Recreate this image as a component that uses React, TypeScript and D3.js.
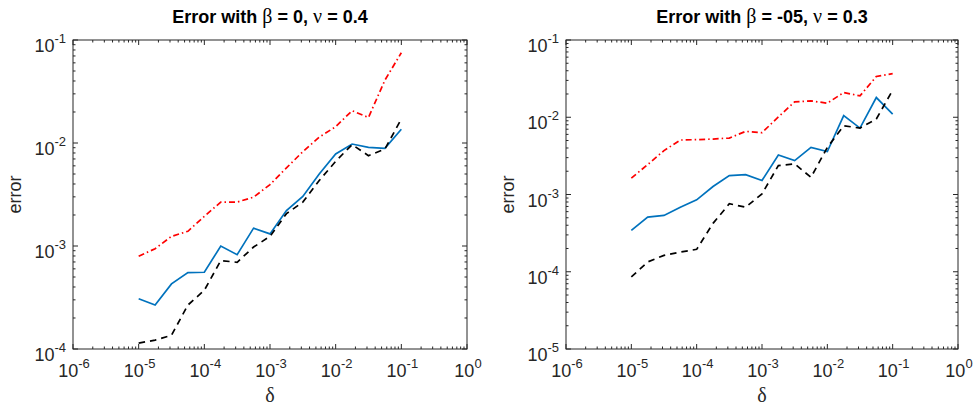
import React from 'react';
import * as d3 from 'd3';

// step sizes (delta) shared by both panels
const deltas = [
  1e-5, 1.78e-5, 3.16e-5, 5.62e-5, 1e-4, 1.78e-4, 3.16e-4, 5.62e-4, 1e-3,
  1.78e-3, 3.16e-3, 5.62e-3, 1e-2, 1.78e-2, 3.16e-2, 5.62e-2, 1e-1,
];

// left panel: beta = 0, nu = 0.4
const leftBlue = [
  3.07e-4, 2.67e-4, 4.29e-4, 5.52e-4, 5.56e-4, 1.0e-3, 8.24e-4, 1.49e-3, 1.31e-3,
  2.21e-3, 3.03e-3, 5.01e-3, 7.83e-3, 9.77e-3, 9.08e-3, 8.87e-3, 1.36e-2,
];
const leftRed = [
  7.94e-4, 9.42e-4, 1.24e-3, 1.39e-3, 1.94e-3, 2.67e-3, 2.67e-3, 2.98e-3, 3.95e-3,
  5.73e-3, 8.24e-3, 1.14e-2, 1.44e-2, 2.06e-2, 1.77e-2, 4.07e-2, 7.53e-2,
];
const leftBlack = [
  1.14e-4, 1.22e-4, 1.36e-4, 2.67e-4, 3.72e-4, 7.21e-4, 6.95e-4, 9.77e-4, 1.24e-3,
  2.06e-3, 2.67e-3, 4.32e-3, 6.64e-3, 9.64e-3, 7.53e-3, 8.75e-3, 1.71e-2,
];

// right panel: beta = -05, nu = 0.3
const rightBlue = [
  3.43e-4, 5.09e-4, 5.36e-4, 6.85e-4, 8.53e-4, 1.27e-3, 1.76e-3, 1.81e-3, 1.52e-3,
  3.25e-3, 2.75e-3, 4.07e-3, 3.59e-3, 1.05e-2, 7.24e-3, 1.80e-2, 1.10e-2,
];
const rightRed = [
  1.63e-3, 2.44e-3, 3.70e-3, 5.07e-3, 5.13e-3, 5.22e-3, 5.38e-3, 6.56e-3, 6.31e-3,
  1.01e-2, 1.58e-2, 1.63e-2, 1.52e-2, 2.09e-2, 1.89e-2, 3.37e-2, 3.67e-2,
];
const rightBlack = [
  8.57e-5, 1.34e-4, 1.63e-4, 1.80e-4, 1.95e-4, 4.23e-4, 7.59e-4, 6.85e-4, 1.02e-3,
  2.37e-3, 2.49e-3, 1.67e-3, 4.07e-3, 7.76e-3, 7.24e-3, 9.48e-3, 2.24e-2,
];

const xExps = [-6, -5, -4, -3, -2, -1, 0];
const leftYExps = [-4, -3, -2, -1];
const rightYExps = [-5, -4, -3, -2, -1];

const FONT = '"Liberation Sans", Arial, Helvetica, sans-serif';
const SERIF = '"Liberation Serif", "Times New Roman", serif';

type PanelProps = {
  left: number;
  right: number;
  top: number;
  bottom: number;
  yExps: number[];
  blue: number[];
  red: number[];
  black: number[];
  beta: string;
  nu: string;
};

function Panel({ left, right, top, bottom, yExps, blue, red, black, beta, nu }: PanelProps) {
  const x = d3.scaleLog()
    .domain([Math.pow(10, xExps[0]), Math.pow(10, xExps[xExps.length - 1])])
    .range([left, right]);
  const y = d3.scaleLog()
    .domain([Math.pow(10, yExps[0]), Math.pow(10, yExps[yExps.length - 1])])
    .range([bottom, top]);

  const line = (vals: number[]) =>
    d3.line<number>()
      .x((_, i) => x(deltas[i]))
      .y(d => y(d))(vals) || '';

  // major + minor ticks (decades and 2..9 multiples)
  const xMinor: number[] = [];
  for (let e = xExps[0]; e < xExps[xExps.length - 1]; e++)
    for (let m = 2; m <= 9; m++) xMinor.push(m * Math.pow(10, e));
  const yMinor: number[] = [];
  for (let e = yExps[0]; e < yExps[yExps.length - 1]; e++)
    for (let m = 2; m <= 9; m++) yMinor.push(m * Math.pow(10, e));

  const major = 5;
  const minor = 2.5;

  return (
    <g>
      {/* series */}
      <path d={line(blue)} fill="none" stroke="#0072BD" strokeWidth={1.7} />
      <path d={line(red)} fill="none" stroke="#FF0000" strokeWidth={1.7}
        strokeDasharray="6 3 1.5 3" />
      <path d={line(black)} fill="none" stroke="#000" strokeWidth={1.7}
        strokeDasharray="6.5 5" />

      {/* box */}
      <rect x={left} y={top} width={right - left} height={bottom - top}
        fill="none" stroke="#262626" strokeWidth={1} />

      {/* x ticks */}
      {xExps.map(e => {
        const px = x(Math.pow(10, e));
        return (
          <g key={'xm' + e}>
            <line x1={px} x2={px} y1={bottom} y2={bottom - major} stroke="#262626" />
            <line x1={px} x2={px} y1={top} y2={top + major} stroke="#262626" />
            <text x={px + 1} y={377} textAnchor="middle" fontFamily={FONT} fontSize={18} fill="#262626">
              10<tspan dy={-9} fontSize={13}>{e}</tspan>
            </text>
          </g>
        );
      })}
      {xMinor.map((v, i) => {
        const px = x(v);
        return (
          <g key={'xn' + i}>
            <line x1={px} x2={px} y1={bottom} y2={bottom - minor} stroke="#262626" />
            <line x1={px} x2={px} y1={top} y2={top + minor} stroke="#262626" />
          </g>
        );
      })}

      {/* y ticks */}
      {yExps.map(e => {
        const py = y(Math.pow(10, e));
        return (
          <g key={'ym' + e}>
            <line x1={left} x2={left + major} y1={py} y2={py} stroke="#262626" />
            <line x1={right} x2={right - major} y1={py} y2={py} stroke="#262626" />
            <text x={left - 7} y={py + 12} textAnchor="end" fontFamily={FONT} fontSize={18} fill="#262626">
              10<tspan dy={-9} fontSize={13}>{e}</tspan>
            </text>
          </g>
        );
      })}
      {yMinor.map((v, i) => {
        const py = y(v);
        return (
          <g key={'yn' + i}>
            <line x1={left} x2={left + minor} y1={py} y2={py} stroke="#262626" />
            <line x1={right} x2={right - minor} y1={py} y2={py} stroke="#262626" />
          </g>
        );
      })}

      {/* labels */}
      <text x={(left + right) / 2} y={402} textAnchor="middle" fontFamily={SERIF}
        fontSize={20} fill="#262626">δ</text>
      <text transform={`translate(${left - 52},${(top + bottom) / 2}) rotate(-90)`}
        textAnchor="middle" fontFamily={FONT} fontSize={18} fill="#262626">error</text>
      <text x={(left + right) / 2} y={23} textAnchor="middle" fontFamily={FONT}
        fontSize={18} fontWeight="bold" fill="#000">
        Error with <tspan fontFamily={SERIF} fontWeight="normal" fontSize={20}>β</tspan> = {beta},{' '}
        <tspan fontFamily={SERIF} fontWeight="normal" fontSize={20}>ν</tspan> = {nu}
      </text>
    </g>
  );
}

export default function App() {
  return (
    <svg width={973} height={408} style={{ position: 'absolute', left: 0, top: 0, background: '#fff' }}>
      <rect width={973} height={408} fill="#fff" />
      <Panel left={73} right={467} top={40} bottom={349} yExps={leftYExps}
        blue={leftBlue} red={leftRed} black={leftBlack} beta="0" nu="0.4" />
      <Panel left={566} right={958} top={40} bottom={349} yExps={rightYExps}
        blue={rightBlue} red={rightRed} black={rightBlack} beta="-05" nu="0.3" />
    </svg>
  );
}
